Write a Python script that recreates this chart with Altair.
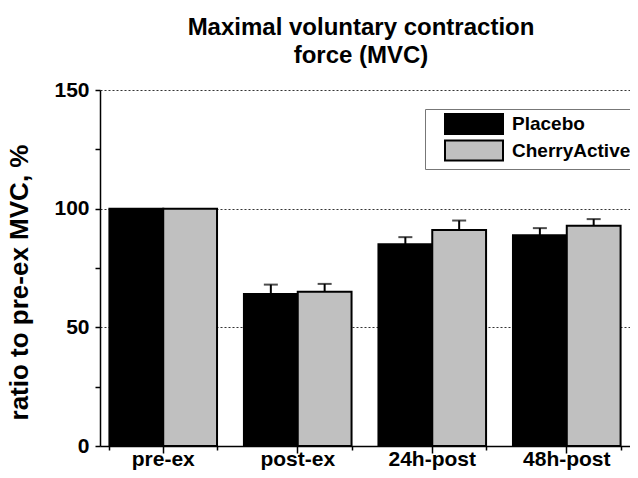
import altair as alt
import pandas as pd

times = ["pre-ex", "post-ex", "24h-post", "48h-post"]
groups = ["Placebo", "CherryActive"]
placebo_mean = [100, 64, 85, 88.8]
placebo_err = [0, 4, 3, 3]
cherry_mean = [100, 65, 91, 92.8]
cherry_err = [0, 3.3, 4, 2.8]
colors = ["#000000", "#c0c0c0"]
y_ticks = [0, 25, 50, 75, 100, 125, 150]

rows = []
for g, means, errs in [("Placebo", placebo_mean, placebo_err), ("CherryActive", cherry_mean, cherry_err)]:
    for t, m, e in zip(times, means, errs):
        rows.append({"time": t, "group": g, "mean": m, "err": e, "upper": m + e})
df = pd.DataFrame(rows)

FONT = "Liberation Sans"
YTITLE = "ratio to pre-ex MVC, %"

x_scale = alt.Scale(domain=times, paddingInner=0.2, paddingOuter=0.07)
y_scale = alt.Scale(domain=[0, 150], nice=False)
xoff = alt.XOffset("group:N", sort=groups, scale=alt.Scale(domain=groups))

bars = alt.Chart(df).mark_bar(stroke="black", strokeWidth=2).encode(
    x=alt.X("time:N", sort=times, scale=x_scale,
            axis=alt.Axis(title=None, labelAngle=0, orient="bottom", tickSize=7, tickWidth=1.5,
                          tickColor="black", domainColor="black", domainWidth=1.5,
                          labelFont=FONT, labelFontWeight="bold", labelColor="black",
                          labelFontSize=21, labelPadding=-5, grid=False)),
    xOffset=xoff,
    y=alt.Y("mean:Q", scale=y_scale, title=YTITLE,
            axis=alt.Axis(values=y_ticks,
                          labelExpr="datum.value % 50 === 0 ? datum.label : ''",
                          tickSize=5, tickWidth=1.5, tickColor="black",
                          domainColor="black", domainWidth=1.5,
                          labelFont=FONT, labelFontWeight="bold", labelColor="black",
                          labelFontSize=21, labelPadding=6,
                          grid=True, gridColor="#333333", gridWidth=1, gridDash=[2, 2],
                          gridOpacity={"condition": {"test": "datum.value % 50 === 0 && datum.value > 0", "value": 1}, "value": 0},
                          titleFont=FONT, titleFontWeight="bold", titleColor="black",
                          titleFontSize=26, titleAngle=270, titleX=-68, titleY=192,
                          titleAlign="center", titleBaseline="bottom")),
    fill=alt.Fill("group:N", sort=groups, scale=alt.Scale(domain=groups, range=colors),
                  legend=alt.Legend(title=None, orient="none", legendX=325, legendY=19,
                                    direction="vertical",
                                    symbolType="M-2.9,-1H2.9V1H-2.9Z", symbolSize=400,
                                    symbolStrokeColor="black", symbolStrokeWidth=2,
                                    symbolOffset=34, labelOffset=27, rowPadding=-1.5,
                                    labelFont=FONT, labelFontSize=19, labelFontWeight="bold",
                                    labelColor="black",
                                    padding=4, strokeColor="#777777", fillColor="white")),
)

err_rule = alt.Chart(df).transform_filter("datum.err > 0").mark_rule(color="black", strokeWidth=2).encode(
    x=alt.X("time:N", sort=times, scale=x_scale,
            axis=alt.Axis(title=None, orient="bottom", labels=False, domain=False, grid=False,
                          tickBand="extent", tickSize=4, tickWidth=1.5, tickColor="black")),
    xOffset=xoff,
    y=alt.Y("mean:Q", scale=y_scale, title=YTITLE),
    y2="upper:Q",
)

caps = alt.Chart(df).transform_filter("datum.err > 0").mark_tick(color="black", thickness=2, size=14).encode(
    x=alt.X("time:N", sort=times, scale=x_scale, axis=None),
    xOffset=xoff,
    y=alt.Y("upper:Q", scale=y_scale, title=YTITLE),
)

chart = alt.layer(bars, err_rule, caps).resolve_axis(x="independent").properties(
    width=530, height=356,
    padding={"left": 92, "top": 82, "right": 0, "bottom": 24},
    autosize=alt.AutoSizeParams(type="none"),
    background="white",
    title=alt.Title(["Maximal voluntary contraction", "force (MVC)"], font=FONT, fontSize=24,
                    fontWeight="bold", color="black", lineHeight=28, anchor="middle", dx=-4, offset=11),
).configure_view(stroke=None)

chart.save("out.html", embed_options={"renderer": "svg", "actions": False})
